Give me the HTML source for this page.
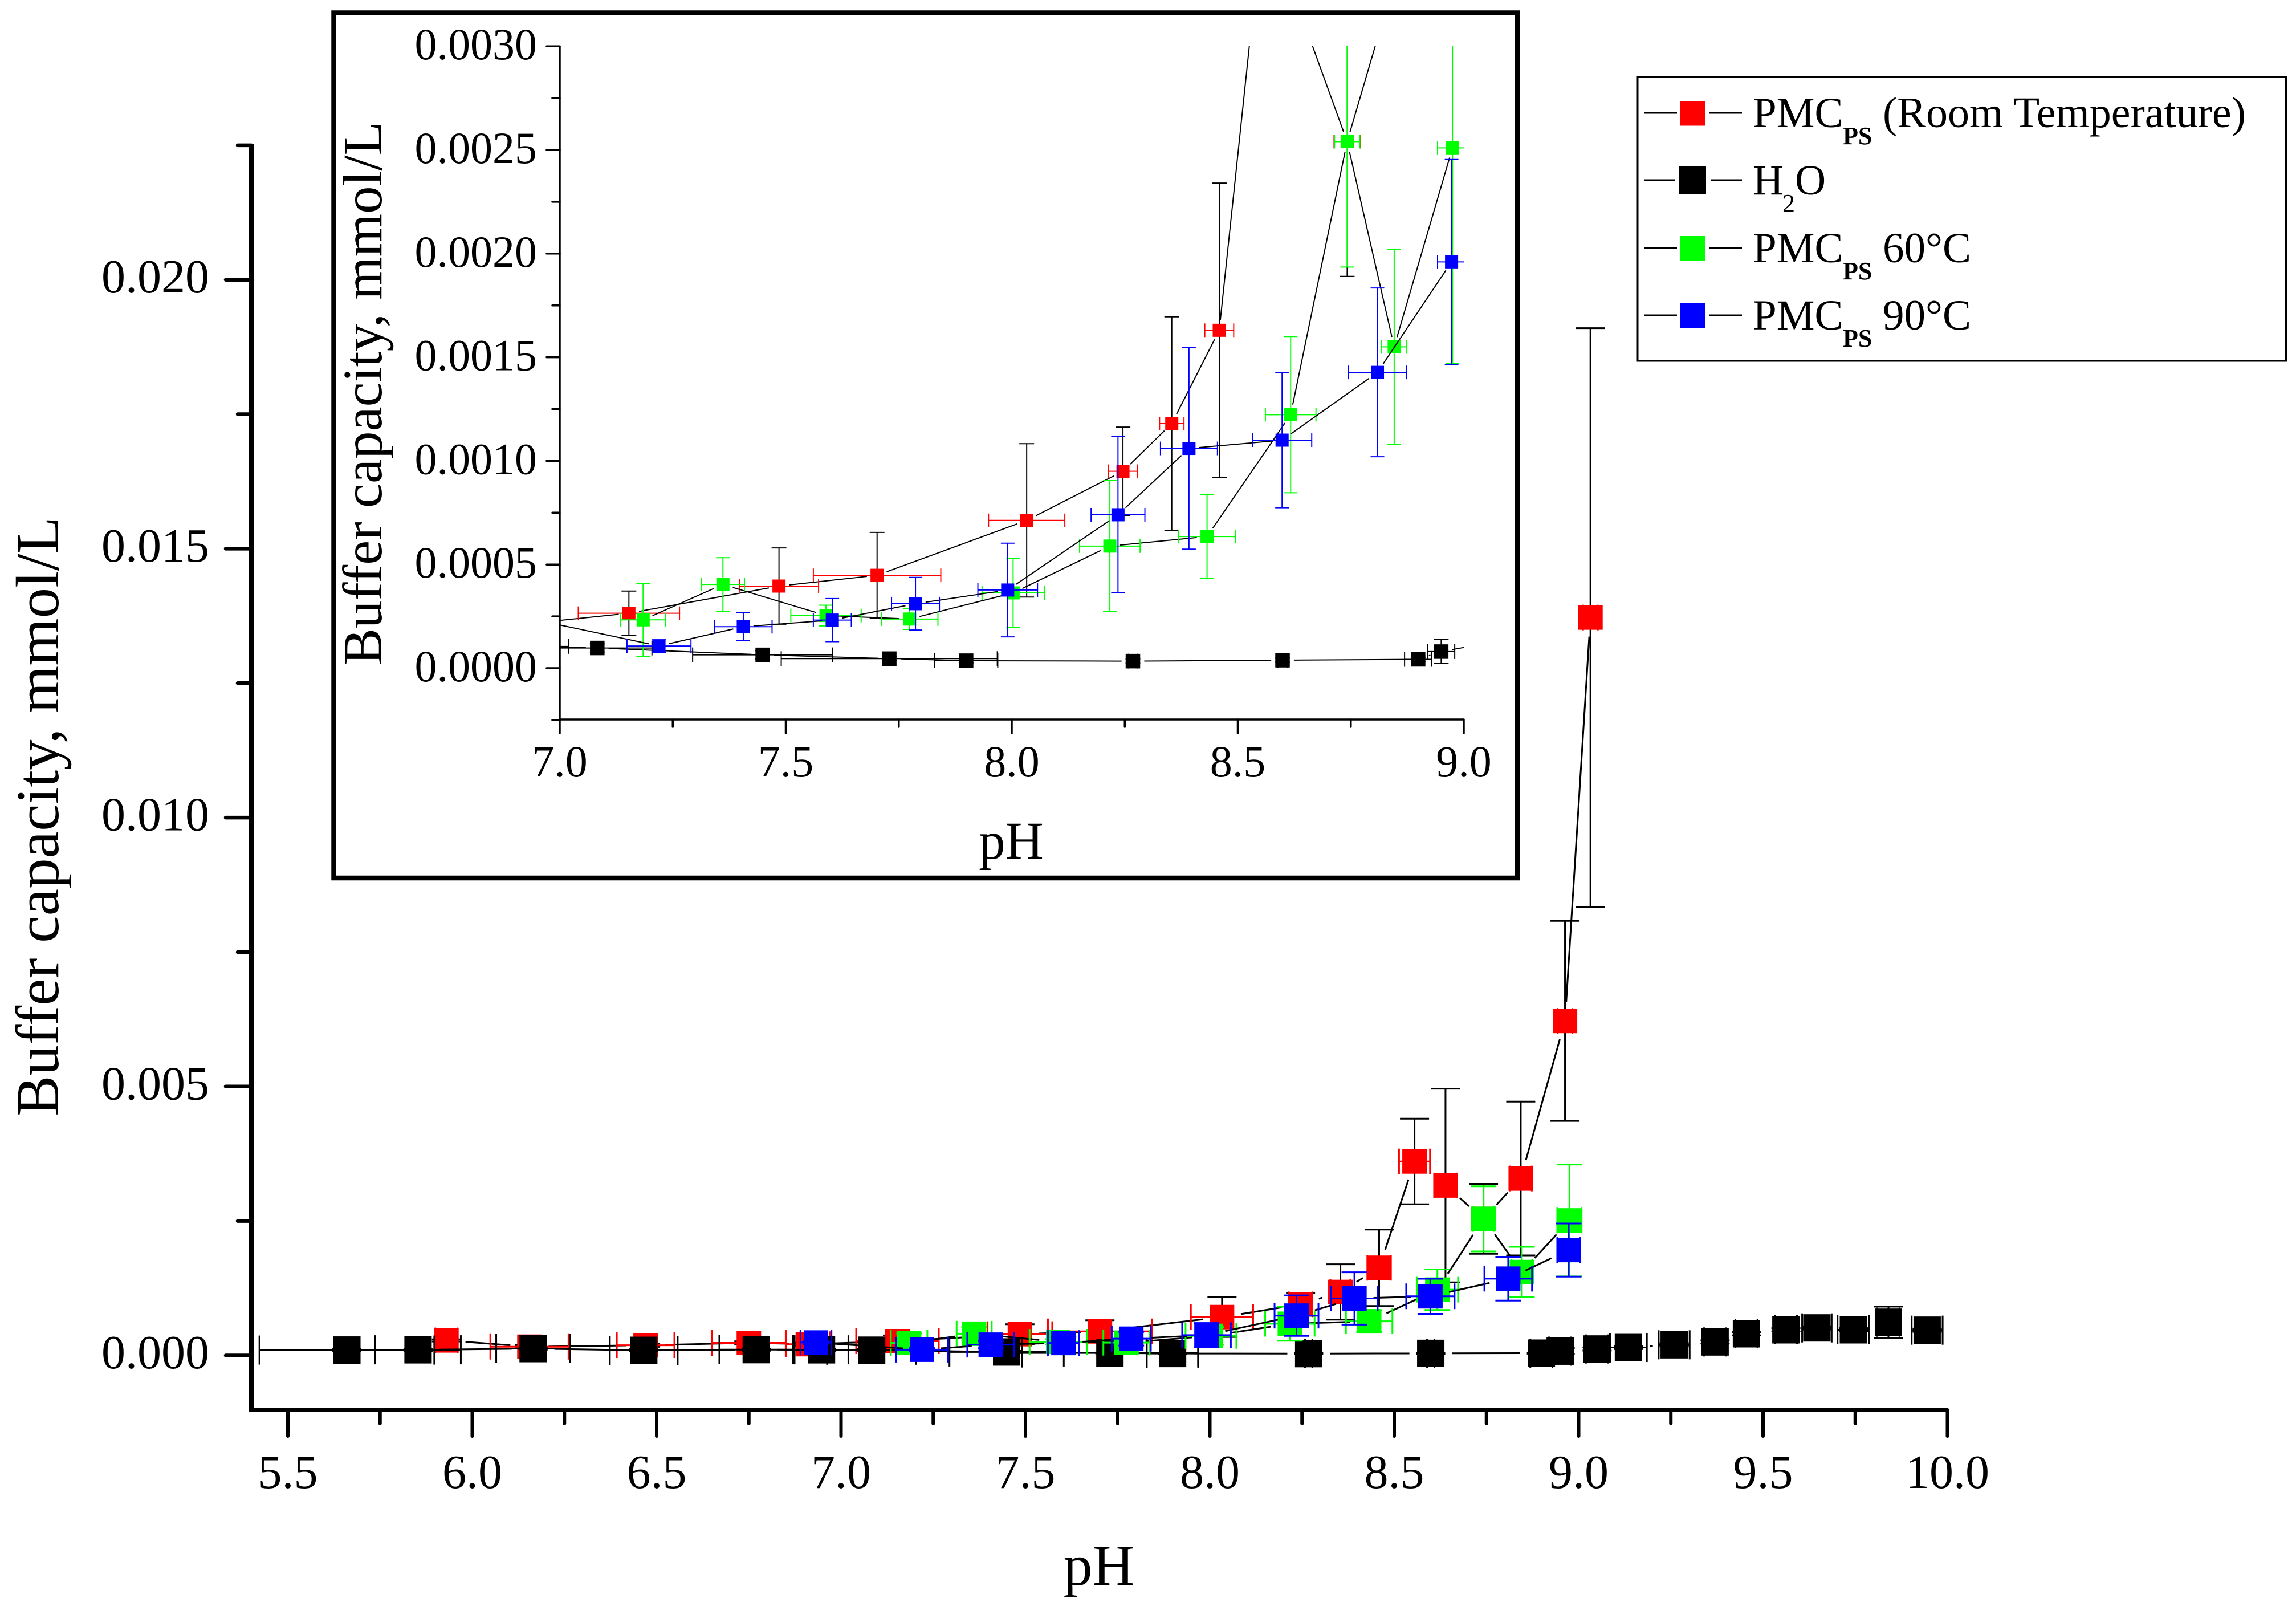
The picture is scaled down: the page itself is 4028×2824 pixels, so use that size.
<!DOCTYPE html>
<html lang="en">
<head>
<meta charset="utf-8">
<title>Buffer capacity vs pH</title>
<style>
html,body{margin:0;padding:0;background:#fff;}
svg{display:block;}
text{font-family:"Liberation Serif","Times New Roman",serif;fill:#000;}
</style>
</head>
<body>
<svg id="chart" xmlns="http://www.w3.org/2000/svg" width="4028" height="2824" viewBox="0 0 4028 2824">
  <defs>
    <clipPath id="inset-clip"><rect x="982" y="81" width="1587" height="1181"/></clipPath>
  </defs>
  <rect x="0" y="0" width="4028" height="2824" fill="#fff"/>

  <g id="main-axes"></g>
  <g id="main-plot"></g>
  <text x="1928" y="2780" font-size="102" text-anchor="middle">pH</text>
  <text transform="translate(102,1432) rotate(-90)" font-size="107" text-anchor="middle">Buffer capacity, mmol/L</text>

  <rect x="585.5" y="22.5" width="2076.5" height="1517.5" fill="#fff" stroke="#000" stroke-width="8.5"/>
  <g id="inset-axes"></g>
  <g id="inset-plot" clip-path="url(#inset-clip)"></g>
  <text x="1774" y="1506" font-size="93" text-anchor="middle">pH</text>
  <text transform="translate(669,690) rotate(-90)" font-size="97" text-anchor="middle">Buffer capacity, mmol/L</text>

  <g>
    <rect x="2873" y="134.5" width="1137.5" height="498.5" fill="#fff" stroke="#000" stroke-width="3"/>

    <g>
      <line x1="2884" y1="198" x2="2942" y2="198" stroke="#000" stroke-width="3"/>
      <line x1="2998" y1="198" x2="3056" y2="198" stroke="#000" stroke-width="3"/>
      <rect x="2948" y="177.5" width="43" height="43" fill="#ff0000"/>
      <text x="3075" y="223" font-size="75">PMC</text>
      <text x="3233" y="253" font-size="44" font-weight="bold">PS</text>
      <text x="3303" y="223" font-size="76">(Room Temperature)</text>
    </g>

    <g>
      <line x1="2884" y1="316" x2="2938" y2="316" stroke="#000" stroke-width="3"/>
      <line x1="3001" y1="316" x2="3056" y2="316" stroke="#000" stroke-width="3"/>
      <rect x="2945" y="292" width="48" height="48" fill="#000"/>
      <text x="3075" y="341" font-size="75">H</text>
      <text x="3127" y="371" font-size="44">2</text>
      <text x="3149" y="341" font-size="75">O</text>
    </g>

    <g>
      <line x1="2884" y1="435" x2="2942" y2="435" stroke="#000" stroke-width="3"/>
      <line x1="2998" y1="435" x2="3056" y2="435" stroke="#000" stroke-width="3"/>
      <rect x="2948" y="414" width="43" height="43" fill="#00ff00"/>
      <text x="3075" y="460" font-size="75">PMC</text>
      <text x="3233" y="490" font-size="44" font-weight="bold">PS</text>
      <text x="3303" y="460" font-size="75">60°C</text>
    </g>

    <g>
      <line x1="2884" y1="553" x2="2942" y2="553" stroke="#000" stroke-width="3"/>
      <line x1="2998" y1="553" x2="3056" y2="553" stroke="#000" stroke-width="3"/>
      <rect x="2948" y="532" width="43" height="43" fill="#0000ff"/>
      <text x="3075" y="578" font-size="75">PMC</text>
      <text x="3233" y="608" font-size="44" font-weight="bold">PS</text>
      <text x="3303" y="578" font-size="75">90°C</text>
    </g>
  </g>
</svg>

<script>
/* ---------- data ---------- */
const redPH = [5.93,6.155,6.47,6.75,6.91,7.153,7.485,7.702,8.033,8.246,8.354,8.459,8.555,8.639,8.742,8.843,8.963,9.032];
const redBuffer = [0.00028,0.000162,0.00019,0.000233,0.00021,0.000265,0.000396,0.000448,0.000713,0.00095,0.00118,0.00163,0.003607,0.00316,0.00254,0.00329,0.00622,0.01372];
const redPHErr = [0.03,0.106,0.078,0.1,0.06,0.112,0.0876,0.141,0.0844,0.032,0.027,0.032,0.042,0.03,0.029,0.03,0.02,0.02];
const redBufferErr = [0.00002,0.00003,0.00003,0.00003,0.00003,0.000107,0.000184,0.000207,0.00037,0.000213,0.000515,0.00071,0.000795,0.0018,0.00065,0.00143,0.00186,0.00538];

const waterPH = [5.66,5.853,6.165,6.465,6.77,6.947,7.083,7.449,7.729,7.899,8.268,8.599,8.899,8.95,9.05,9.135,9.259,9.37,9.455,9.562,9.646,9.745,9.84,9.945];
const waterBuffer = [0.0001,0.000105,0.000127,0.000095,0.000108,0.000105,0.0000974,0.0000643,0.000046,0.000036,0.000034,0.0000385,0.0000426,0.00008,0.00012,0.000148,0.000198,0.000251,0.000403,0.000477,0.000512,0.000477,0.000618,0.00047];
const waterPHErr = [0.237,0.116,0.1,0.092,0.1,0.073,0.121,0.155,0.239,0.07,0.01,0.01,0.03,0.03,0.03,0.05,0.042,0.03,0.03,0.03,0.04,0.043,0.03,0.042];
const waterBufferErr = [0.00002,0.00002,0.00002,0.00002,0.00002,0.00002,0.00002,0.00002,0.00001,0.00001,0.00001,0.00001,0.00001,0.000058,0.00003,0.00003,0.00003,0.00003,0.00003,0.00003,0.00003,0.00003,0.00029,0.00003];

const green60PH = [7.1845,7.361,7.589,7.774,8.003,8.217,8.432,8.617,8.742,8.846,8.975];
const green60Buffer = [0.000233,0.000404,0.000254,0.000237,0.000363,0.000589,0.000635,0.001223,0.00254,0.00155,0.00251];
const green60PHErr = [0.0495,0.0476,0.0778,0.0627,0.0688,0.067,0.063,0.056,0.028,0.028,0.033];
const green60BufferErr = [0.000176,0.000129,0.00005,0.00005,0.000166,0.000316,0.000202,0.000377,0.000605,0.000469,0.00104];

const blue90PH = [6.932,7.2195,7.406,7.603,7.787,7.991,8.235,8.392,8.598,8.809,8.973];
const blue90Buffer = [0.00024,0.000107,0.0002,0.000232,0.000311,0.000377,0.00074,0.00106,0.0011,0.001427,0.00196];
const blue90PHErr = [0.042,0.0708,0.0637,0.042,0.053,0.066,0.0595,0.063,0.0656,0.0646,0.031];
const blue90BufferErr = [0.00003,0.00003,0.0000667,0.000104,0.000127,0.000226,0.000377,0.000486,0.000326,0.000407,0.000494];

/* ---------- tick values and labels ---------- */
const mainXMajor = [5.5,6,6.5,7,7.5,8,8.5,9,9.5,10];
const mainXMajorLabels = ["5.5","6.0","6.5","7.0","7.5","8.0","8.5","9.0","9.5","10.0"];
const mainXMinor = [5.75,6.25,6.75,7.25,7.75,8.25,8.75,9.25,9.75];
const mainYMajor = [0,0.005,0.01,0.015,0.02];
const mainYMajorLabels = ["0.000","0.005","0.010","0.015","0.020"];
const mainYMinor = [0.0025,0.0075,0.0125,0.0175,0.0225];

const insetXMajor = [7,7.5,8,8.5,9];
const insetXMajorLabels = ["7.0","7.5","8.0","8.5","9.0"];
const insetXMinor = [7.25,7.75,8.25,8.75];
const insetYMajor = [0,0.0005,0.001,0.0015,0.002,0.0025,0.003];
const insetYMajorLabels = ["0.0000","0.0005","0.0010","0.0015","0.0020","0.0025","0.0030"];
const insetYMinor = [-0.00025,0.00025,0.00075,0.00125,0.00175,0.00225,0.00275];

/* ---------- axis functions ---------- */
const mainX = p => 505 + (p - 5.5) * 647;
const mainY = v => 2377.5 - v * 94340;
const insetX = p => 982 + (p - 7) * 793;
const insetY = v => 1172 - v * 363600;

const NS = 'http://www.w3.org/2000/svg';
function seg(parent, x1, y1, x2, y2, stroke, width, name, round) {
  const el = document.createElementNS(NS, 'line');
  el.setAttribute('x1', x1);
  el.setAttribute('y1', y1);
  el.setAttribute('x2', x2);
  el.setAttribute('y2', y2);
  el.setAttribute('stroke', stroke);
  el.setAttribute('stroke-width', width);
  if (round) el.setAttribute('stroke-linecap', 'round');
  
  
  parent.appendChild(el);
  return el;
}
function label(parent, x, y, str, size, anchor, name) {
  const el = document.createElementNS(NS, 'text');
  el.setAttribute('x', x);
  el.setAttribute('y', y);
  el.setAttribute('font-size', size);
  el.setAttribute('text-anchor', anchor);
  el.textContent = str;
  
  
  parent.appendChild(el);
}
function square(parent, cx, cy, size, fill, name) {
  const el = document.createElementNS(NS, 'rect');
  el.setAttribute('x', cx - size / 2);
  el.setAttribute('y', cy - size / 2);
  el.setAttribute('width', size);
  el.setAttribute('height', size);
  el.setAttribute('fill', fill);
  
  
  parent.appendChild(el);
}

/* ---------- axes ---------- */
function drawMainAxes() {
  const g = document.getElementById('main-axes');
  seg(g, 441, 253, 441, 2477, '#000', 8, 'main-y-axis-line');
  seg(g, 437, 2473, 3417, 2473, '#000', 7.5, 'main-x-axis-line');
  mainXMajor.forEach((t, i) => {
    seg(g, mainX(t), 2473, mainX(t), 2519, '#000', 6, 'main-x-major-tick', true);
    label(g, mainX(t), 2610, mainXMajorLabels[i], 84, 'middle', 'main-x-tick-label');
  });
  mainXMinor.forEach(t => seg(g, mainX(t), 2473, mainX(t), 2497, '#000', 6, 'main-x-minor-tick', true));
  mainYMajor.forEach((t, i) => {
    seg(g, 441, mainY(t), 396, mainY(t), '#000', 6.5, 'main-y-major-tick', true);
    label(g, 367, mainY(t) + 22.5, mainYMajorLabels[i], 84, 'end', 'main-y-tick-label');
  });
  mainYMinor.forEach(t => seg(g, 441, mainY(t), 417, mainY(t), '#000', 6.5, 'main-y-minor-tick', true));
}
function drawInsetAxes() {
  const g = document.getElementById('inset-axes');
  seg(g, 982, 80, 982, 1264, '#000', 3.5, 'inset-y-axis-line');
  seg(g, 980, 1262, 2569, 1262, '#000', 3.5, 'inset-x-axis-line');
  insetXMajor.forEach((t, i) => {
    seg(g, insetX(t), 1262, insetX(t), 1286, '#000', 3.5, 'inset-x-major-tick', true);
    label(g, insetX(t), 1362, insetXMajorLabels[i], 78, 'middle', 'inset-x-tick-label');
  });
  insetXMinor.forEach(t => seg(g, insetX(t), 1262, insetX(t), 1275, '#000', 3.5, 'inset-x-minor-tick', true));
  insetYMajor.forEach((t, i) => {
    seg(g, 982, insetY(t), 959, insetY(t), '#000', 3.5, 'inset-y-major-tick', true);
    label(g, 942, insetY(t) + 23, insetYMajorLabels[i], 78, 'end', 'inset-y-tick-label');
  });
  insetYMinor.forEach(t => seg(g, 982, insetY(t), 969, insetY(t), '#000', 3.5, 'inset-y-minor-tick', true));
}

/* ---------- one series: connecting line with gaps, error bars, markers ---------- */
function drawSeries(parent, s, sx, sy, opt) {
  const g = document.createElementNS(NS, 'g');
  
  
  parent.appendChild(g);
  const size = s.black ? opt.blackSize : opt.size;
  const gap = size * 0.78;
  for (let i = 0; i + 1 < s.x.length; i++) {
    const x1 = sx(s.x[i]), y1 = sy(s.y[i]), x2 = sx(s.x[i + 1]), y2 = sy(s.y[i + 1]);
    const L = Math.hypot(x2 - x1, y2 - y1);
    if (L <= 2 * gap) continue;
    const ux = (x2 - x1) / L, uy = (y2 - y1) / L;
    seg(g, x1 + ux * gap, y1 + uy * gap, x2 - ux * gap, y2 - uy * gap, '#000', opt.lineWidth, 'series-line');
  }
  const capY = s.black || s.yErrColor === '#000' ? opt.blackCap : opt.cap;
  const capX = s.black ? opt.blackCap : opt.cap;
  s.x.forEach((p, i) => {
    /* points beyond the visible value range carry no error bars */
    if (s.y[i] > opt.yLimit) return;
    const cx = sx(p), cy = sy(s.y[i]);
    const top = sy(s.y[i] + s.yErr[i]), bot = sy(s.y[i] - s.yErr[i]);
    const left = sx(p - s.xErr[i]), right = sx(p + s.xErr[i]);
    seg(g, cx, top, cx, bot, s.yErrColor, opt.errWidth, 'y-error-bar');
    seg(g, cx - capY, top, cx + capY, top, s.yErrColor, opt.errWidth, 'y-error-cap');
    seg(g, cx - capY, bot, cx + capY, bot, s.yErrColor, opt.errWidth, 'y-error-cap');
    seg(g, left, cy, right, cy, s.color, opt.errWidth, 'x-error-bar');
    seg(g, left, cy - capX, left, cy + capX, s.color, opt.errWidth, 'x-error-cap');
    seg(g, right, cy - capX, right, cy + capX, s.color, opt.errWidth, 'x-error-cap');
  });
  s.x.forEach((p, i) => square(g, sx(p), sy(s.y[i]), size, s.color, 'series-marker'));
}

const seriesList = [
  {name:'series-pmc-room-temperature', x:redPH, y:redBuffer, xErr:redPHErr, yErr:redBufferErr, color:'#ff0000', yErrColor:'#000', black:false},
  {name:'series-water', x:waterPH, y:waterBuffer, xErr:waterPHErr, yErr:waterBufferErr, color:'#000', yErrColor:'#000', black:true},
  {name:'series-pmc-60c', x:green60PH, y:green60Buffer, xErr:green60PHErr, yErr:green60BufferErr, color:'#00ff00', yErrColor:'#00ff00', black:false},
  {name:'series-pmc-90c', x:blue90PH, y:blue90Buffer, xErr:blue90PHErr, yErr:blue90BufferErr, color:'#0000ff', yErrColor:'#0000ff', black:false}
];

const mainStyle = {size:43, blackSize:48, lineWidth:3, errWidth:3, cap:22.5, blackCap:25.5, yLimit:Infinity};
const insetStyle = {size:23, blackSize:25.5, lineWidth:2, errWidth:2, cap:12, blackCap:13, yLimit:0.003};

drawMainAxes();
drawInsetAxes();
seriesList.forEach(s => drawSeries(document.getElementById('main-plot'), s, mainX, mainY, mainStyle));
seriesList.forEach(s => drawSeries(document.getElementById('inset-plot'), s, insetX, insetY, insetStyle));
</script>
</body>
</html>
